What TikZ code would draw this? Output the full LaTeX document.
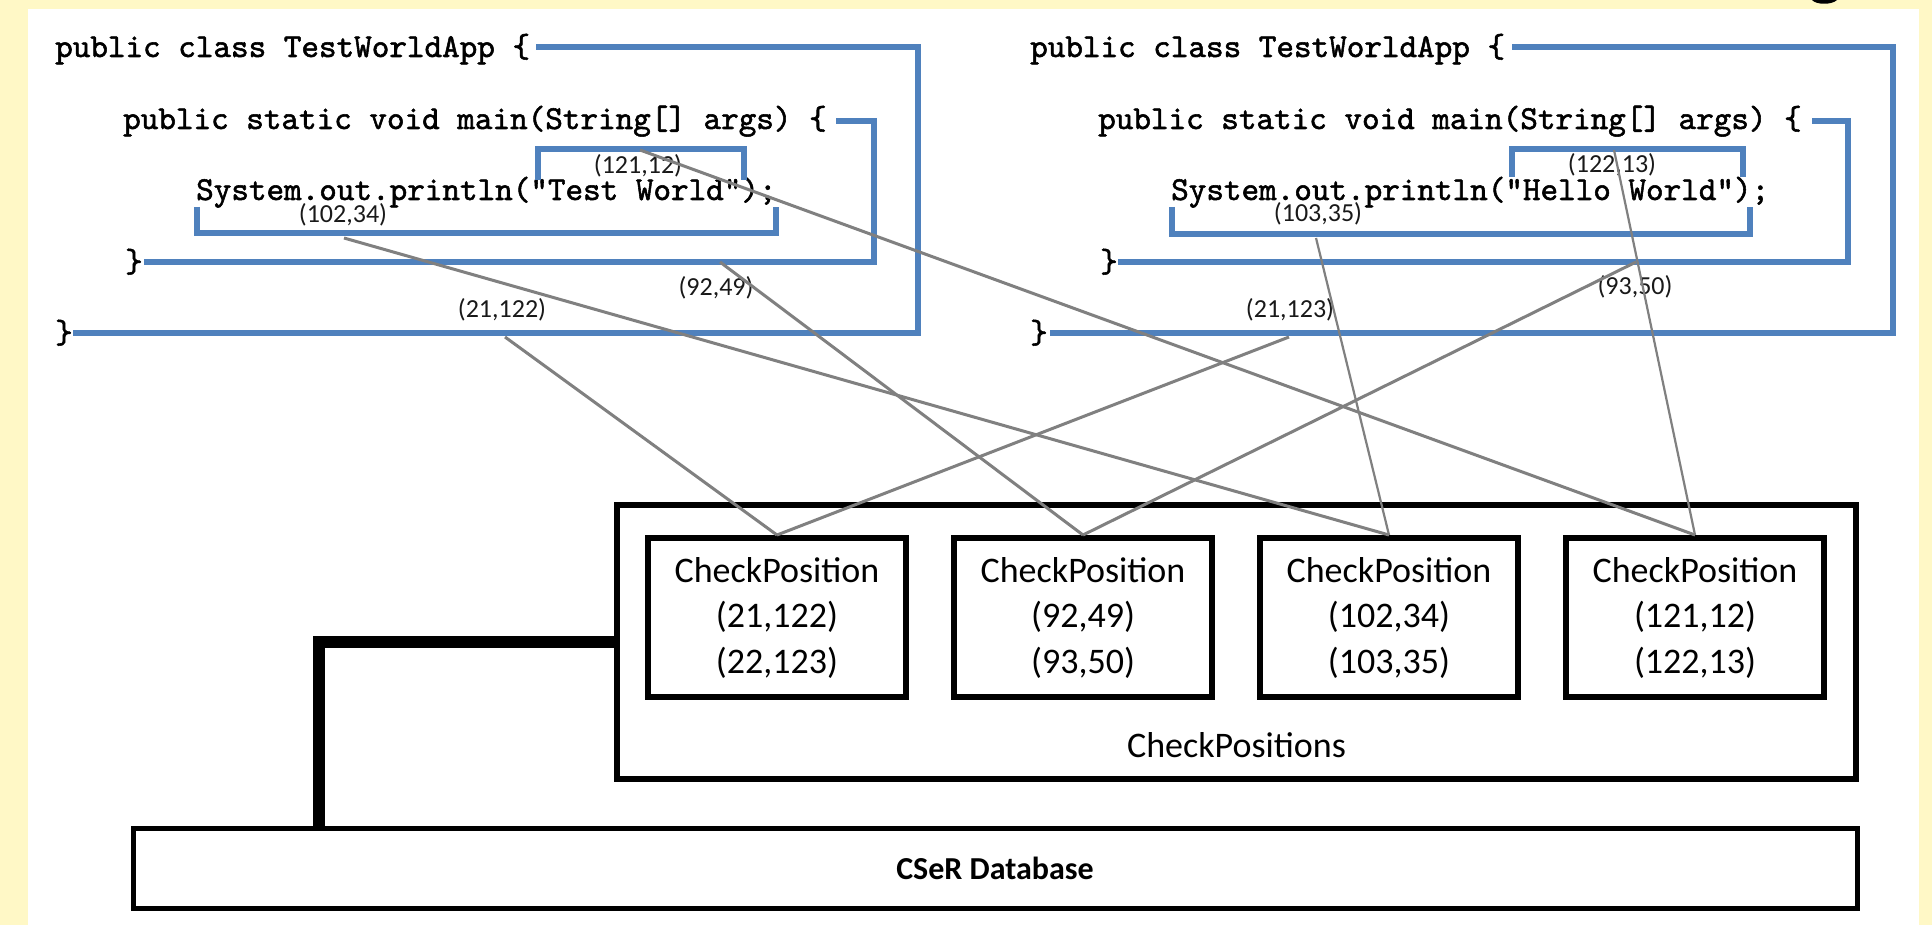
\documentclass[tikz,border=0pt]{standalone}
\usepackage{fontspec}
\setmainfont{Carlito}
\newfontfamily\calfont{Carlito}
\newfontfamily\codefont[FakeBold=1.6]{lmmono10-regular.otf}
\definecolor{bgyellow}{RGB}{255,248,198}
\definecolor{codeblue}{RGB}{79,129,189}
\definecolor{linkgray}{RGB}{128,128,128}
\begin{document}
\begin{tikzpicture}[x=1pt,y=-1pt,
  code/.style={font=\codefont\fontsize{33.5}{34}\selectfont, anchor=base west, inner sep=0pt, text=black},
  poslabel/.style={font=\calfont\fontsize{26}{27}\selectfont, inner sep=0pt, text=black!90},
  bracket/.style={draw=codeblue, line width=5.5pt, line join=miter},
  link/.style={draw=linkgray, line width=3pt},
  thinlink/.style={draw=linkgray, line width=2.2pt},
  cpbox/.style={draw=black, line width=6pt, minimum width=258pt, minimum height=159pt, inner sep=0pt,
    align=center, font=\calfont\fontsize{36}{45.5}\selectfont},
  outerbox/.style={draw=black, line width=6pt, minimum width=1239pt, minimum height=274pt, inner sep=0pt},
  dbbox/.style={draw=black, line width=5pt, minimum width=1724pt, minimum height=80pt, inner sep=0pt,
    font=\calfont\bfseries\fontsize{32}{36}\selectfont},
  boxlabel/.style={font=\calfont\fontsize{36}{40}\selectfont, inner sep=0pt, anchor=base},
  dbline/.style={draw=black, line width=12pt, line join=miter}
]
\useasboundingbox (0,0) rectangle (1932,925);
\fill[bgyellow] (0,0) rectangle (1932,925);
\fill[white] (28,9) rectangle (1919,925);
\fill[black] (1812,0) .. controls (1816,5) and (1832,5) .. (1837,0) -- cycle;

% ---------- left code block ----------
\node[code] (lclass) at (55,57) {public class TestWorldApp \{};
\node[code] (lmain) at (123,129) {public static void main(String[] args) \{};
\node[code] (lprint) at (196,200) {System.out.println("Test World");};
\node[code] (lmainend) at (125,272) {\}};
\node[code] (lclassend) at (55,343) {\}};

\draw[bracket] (536,47) -- (918,47) -- (918,333) -- (73,333);
\draw[bracket] (836,121) -- (874,121) -- (874,262) -- (144,262);
\draw[bracket] (538,180) -- (538,149) -- (744,149) -- (744,180);
\draw[bracket] (197,207) -- (197,233) -- (776,233) -- (776,207);

\node[poslabel] (la) at (638,166) {(121,12)};
\node[poslabel] (lb) at (343,215) {(102,34)};
\node[poslabel] (lc) at (716,288) {(92,49)};
\node[poslabel] (ld) at (502,310) {(21,122)};

% ---------- right code block ----------
\node[code] (rclass) at (1030,57) {public class TestWorldApp \{};
\node[code] (rmain) at (1098,129) {public static void main(String[] args) \{};
\node[code] (rprint) at (1171,200) {System.out.println("Hello World");};
\node[code] (rmainend) at (1100,272) {\}};
\node[code] (rclassend) at (1030,343) {\}};

\draw[bracket] (1512,47) -- (1893,47) -- (1893,333) -- (1050,333);
\draw[bracket] (1812,121) -- (1848,121) -- (1848,262) -- (1118,262);
\draw[bracket] (1512,177) -- (1512,149) -- (1743,149) -- (1743,177);
\draw[bracket] (1172,207) -- (1172,234) -- (1750,234) -- (1750,207);

\node[poslabel] (ra) at (1612,165) {(122,13)};
\node[poslabel] (rb) at (1318,214) {(103,35)};
\node[poslabel] (rc) at (1635,287) {(93,50)};
\node[poslabel] (rd) at (1290,310) {(21,123)};

% ---------- boxes ----------
\node[outerbox] (outer) at (1236.5,642) {};
\node[boxlabel] (cplabel) at (1236.5,757) {CheckPositions};
\node[cpbox] (b1) at (777,617.5) {CheckPosition\\(21,122)\\(22,123)};
\node[cpbox] (b2) at (1083,617.5) {CheckPosition\\(92,49)\\(93,50)};
\node[cpbox] (b3) at (1389,617.5) {CheckPosition\\(102,34)\\(103,35)};
\node[cpbox] (b4) at (1695,617.5) {CheckPosition\\(121,12)\\(122,13)};
\node[dbbox] (db) at (995,868) {CSeR Database};

% ---------- link end points ----------
\coordinate (pL1) at (344,238);
\coordinate (pL2) at (640,150);
\coordinate (pL3) at (720,262);
\coordinate (pL4) at (505,337);
\coordinate (pR1) at (1289,337);
\coordinate (pR2) at (1636,262);
\coordinate (pR3) at (1316,238);
\coordinate (pR4) at (1614,150);
\coordinate (dbtap) at (319,828);

\draw[link] (pL1) -- (b3.north);
\draw[link] (pL2) -- (b4.north);
\draw[link] (pL3) -- (b2.north);
\draw[link] (pL4) -- (b1.north);
\draw[link] (pR1) -- (b1.north);
\draw[link] (pR2) -- (b2.north);
\draw[thinlink] (pR3) -- (b3.north);
\draw[thinlink] (pR4) -- (b4.north);

\draw[dbline] (outer.west) -| (dbtap);
\end{tikzpicture}
\end{document}
